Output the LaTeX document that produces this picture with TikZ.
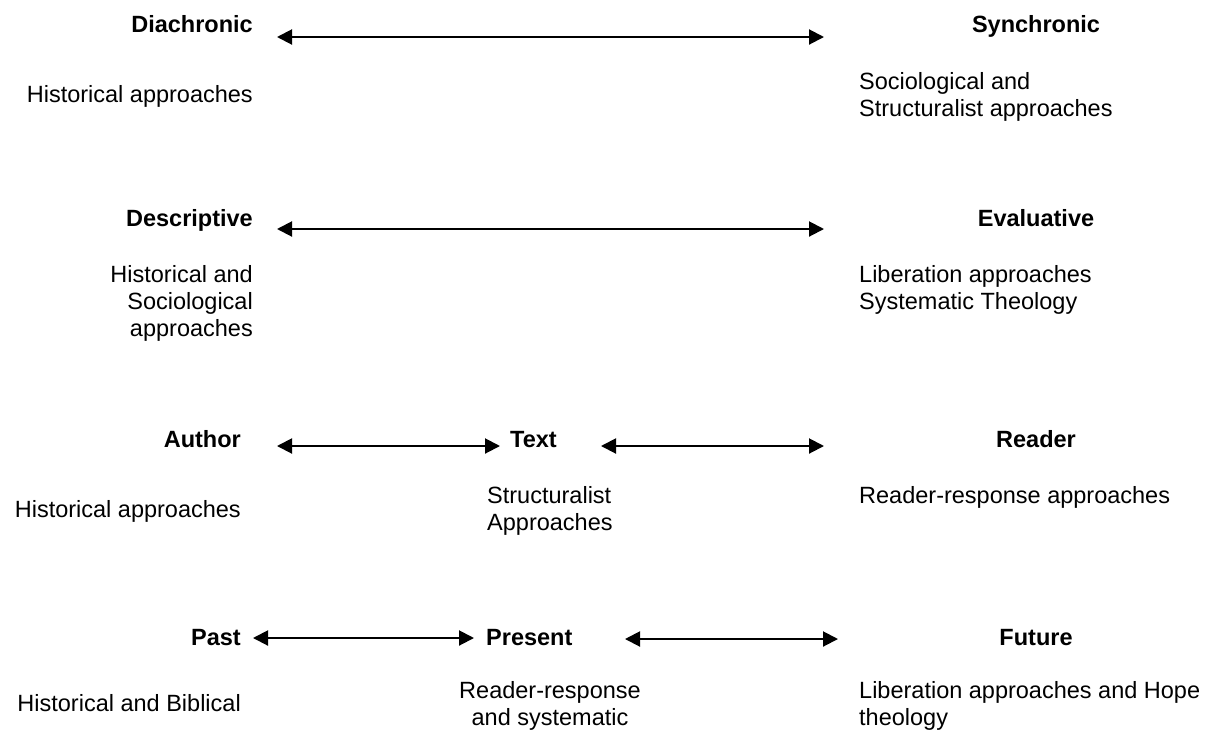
\documentclass[tikz,border=0pt]{standalone}
\usepackage{fontspec}
\setmainfont{Liberation Sans}
\usetikzlibrary{arrows.meta}
\begin{document}
\begin{tikzpicture}[x=1pt,y=-1pt,
  lbl/.style={font=\fontsize{23.5}{27}\selectfont\bfseries, inner sep=0pt},
  desc/.style={font=\fontsize{23.5}{27}\selectfont, inner sep=0pt},
  biarrow/.style={{Triangle[length=15pt,width=15pt]}-{Triangle[length=15pt,width=15pt]}, line width=2pt}]
\useasboundingbox (0,0) rectangle (1215,729);
% Row 1
\node[lbl, anchor=base east] (diachronic) at (253,32) {Diachronic};
\node[lbl, anchor=base] (synchronic) at (1036,32) {Synchronic};
\node[desc, anchor=base east] (hist1) at (253,102) {Historical approaches};
\node[desc, anchor=north west, align=left] (socstruct) at (859,72) {Sociological and\\Structuralist approaches};
\coordinate (r1a) at (277,37);
\coordinate (r1b) at (824,37);
\draw[biarrow] (r1a) -- (r1b);
% Row 2
\node[lbl, anchor=base east] (descriptive) at (253,226) {Descriptive};
\node[lbl, anchor=base] (evaluative) at (1036,226) {Evaluative};
\node[desc, anchor=north east, align=right] (histsoc) at (253,265) {Historical and\\Sociological\\approaches};
\node[desc, anchor=north west, align=left] (libsys) at (859,265) {Liberation approaches\\Systematic Theology};
\coordinate (r2a) at (277,229);
\coordinate (r2b) at (824,229);
\draw[biarrow] (r2a) -- (r2b);
% Row 3
\node[lbl, anchor=base east] (author) at (241,447) {Author};
\node[lbl, anchor=base west] (text) at (510,447) {Text};
\node[lbl, anchor=base] (reader) at (1036,447) {Reader};
\node[desc, anchor=base east] (hist3) at (241,517) {Historical approaches};
\node[desc, anchor=north west, align=left] (structapp) at (487,486) {Structuralist\\Approaches};
\node[desc, anchor=north west, align=left] (readresp) at (859,486) {Reader-response approaches};
\coordinate (r3a) at (277,446);
\coordinate (r3b) at (500,446);
\coordinate (r3c) at (601,446);
\coordinate (r3d) at (824,446);
\draw[biarrow] (r3a) -- (r3b);
\draw[biarrow] (r3c) -- (r3d);
% Row 4
\node[lbl, anchor=base east] (past) at (241,645) {Past};
\node[lbl, anchor=base west] (present) at (486,645) {Present};
\node[lbl, anchor=base] (future) at (1036,645) {Future};
\node[desc, anchor=base east] (histbib) at (241,711) {Historical and Biblical};
\node[desc, anchor=north, align=center] (readsys) at (550,681) {Reader-response\\and systematic};
\node[desc, anchor=north west, align=left] (libhope) at (859,681) {Liberation approaches and Hope\\theology};
\coordinate (r4a) at (253,638);
\coordinate (r4b) at (474,638);
\coordinate (r4c) at (625,639);
\coordinate (r4d) at (838,639);
\draw[biarrow] (r4a) -- (r4b);
\draw[biarrow] (r4c) -- (r4d);
\end{tikzpicture}
\end{document}
